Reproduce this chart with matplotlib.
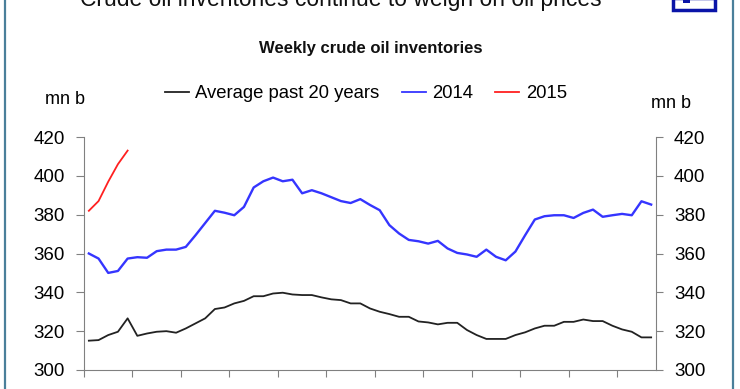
import numpy as np
import matplotlib
matplotlib.use("Agg")
import matplotlib.pyplot as plt
from matplotlib.patches import Rectangle
from matplotlib.lines import Line2D

plt.rcParams['font.family'] = ['Liberation Sans', 'DejaVu Sans']

# weekly crude oil inventories, mn b (59 weeks)
avg_20y = [315.1, 315.4, 318.0, 319.7, 326.6, 317.6, 318.8, 319.7, 320.0, 319.2,
           321.4, 324.0, 326.6, 331.4, 332.2, 334.3, 335.6, 338.0, 338.0, 339.4,
           339.8, 338.9, 338.6, 338.6, 337.4, 336.4, 336.0, 334.3, 334.3, 331.7,
           330.0, 328.8, 327.4, 327.4, 325.0, 324.5, 323.5, 324.3, 324.3, 320.6,
           318.0, 316.0, 316.0, 316.0, 318.0, 319.4, 321.4, 322.8, 322.8, 324.8,
           324.8, 326.0, 325.2, 325.2, 322.8, 320.9, 319.7, 316.8, 316.8]
inv_2014 = [360.0, 357.4, 350.0, 351.0, 357.4, 358.1, 357.8, 361.2, 362.0, 362.0,
            363.4, 369.4, 375.7, 382.0, 381.0, 379.7, 384.0, 394.0, 397.2, 399.1,
            397.2, 398.0, 391.0, 392.6, 391.0, 389.0, 387.0, 386.0, 388.0, 385.0,
            382.3, 374.6, 370.3, 367.0, 366.3, 365.1, 366.5, 362.6, 360.3, 359.5,
            358.3, 362.0, 358.3, 356.5, 361.0, 369.4, 377.5, 379.2, 379.7, 379.7,
            378.3, 380.9, 382.6, 378.9, 379.7, 380.4, 379.7, 386.9, 385.2]
inv_2015 = [382.0, 387.0, 397.0, 406.0, 413.0]

y_ticks = [300, 320, 340, 360, 380, 400, 420]

W, H = 740, 389
fig = plt.figure(figsize=(W / 100, H / 100), dpi=100)

ax = fig.add_axes([84 / W, 1 - 370 / H, (656 - 84) / W, (370 - 137) / H])
weeks = np.arange(len(avg_20y))
ax.plot(weeks, avg_20y, color='#222222', lw=1.3)
ax.plot(weeks, inv_2014, color='#3535ff', lw=1.7)
ax.plot(np.arange(len(inv_2015)), inv_2015, color='#ff2020', lw=1.3)

ax.set_xlim(-0.5, len(avg_20y) - 0.5)
ax.set_ylim(300, 420)
ax.set_yticks(y_ticks)
ax.set_xticks(np.arange(-0.5, len(avg_20y) - 1, 5))
ax.set_xticklabels([])
ax.tick_params(axis='x', length=5, color='#808080', direction='out')
ax.tick_params(axis='y', length=6, color='#808080', labelsize=13.5, pad=8)
for s in ['top', 'right']:
    ax.spines[s].set_visible(False)
for s in ['left', 'bottom']:
    ax.spines[s].set_color('#808080')

ax2 = ax.twinx()
ax2.set_ylim(300, 420)
ax2.set_yticks(y_ticks)
ax2.tick_params(axis='y', length=5, color='#808080', labelsize=13.5, pad=8)
for s in ['top', 'left', 'bottom']:
    ax2.spines[s].set_visible(False)
ax2.spines['right'].set_color('#808080')

# titles and units (main title is cut by the top edge, as in the source)
fig.text(341 / W, 1 - 6 / H, 'Crude oil inventories continue to weigh on oil prices',
         ha='center', va='baseline', fontsize=16.5, color='#111111')
fig.text(371 / W, 1 - 49 / H, 'Weekly crude oil inventories', ha='center', va='center',
         fontsize=12, fontweight='bold', color='#111111')
fig.text(45 / W, 1 - 100 / H, 'mn b', ha='left', va='center', fontsize=13)
fig.text(651 / W, 1 - 104 / H, 'mn b', ha='left', va='center', fontsize=13)

handles = [Line2D([], [], color='#222222', lw=1.3),
           Line2D([], [], color='#3535ff', lw=1.3),
           Line2D([], [], color='#ff2020', lw=1.3)]
fig.legend(handles, ['Average past 20 years', '2014', '2015'], ncol=3,
           loc='center', bbox_to_anchor=(366 / W, 1 - 94 / H), frameon=False,
           fontsize=13.3, handlelength=1.3, handletextpad=0.35, columnspacing=1.2)

# frame and logo
fig.add_artist(Line2D([5 / W, 5 / W], [0, 1], color='#4a7f9a', lw=1.6))
fig.add_artist(Line2D([733 / W, 733 / W], [0, 1], color='#4a7f9a', lw=1.6))
fig.add_artist(Rectangle((673 / W, 1 - 9.5 / H), 42 / W, 12 / H, facecolor='white',
                         edgecolor='#0a14a8', lw=2.5))
fig.add_artist(Rectangle((683 / W, 1 - 3 / H), 7 / W, 4 / H, facecolor='#0a14a8',
                         edgecolor='none'))

fig.savefig('out.png', dpi=100)
